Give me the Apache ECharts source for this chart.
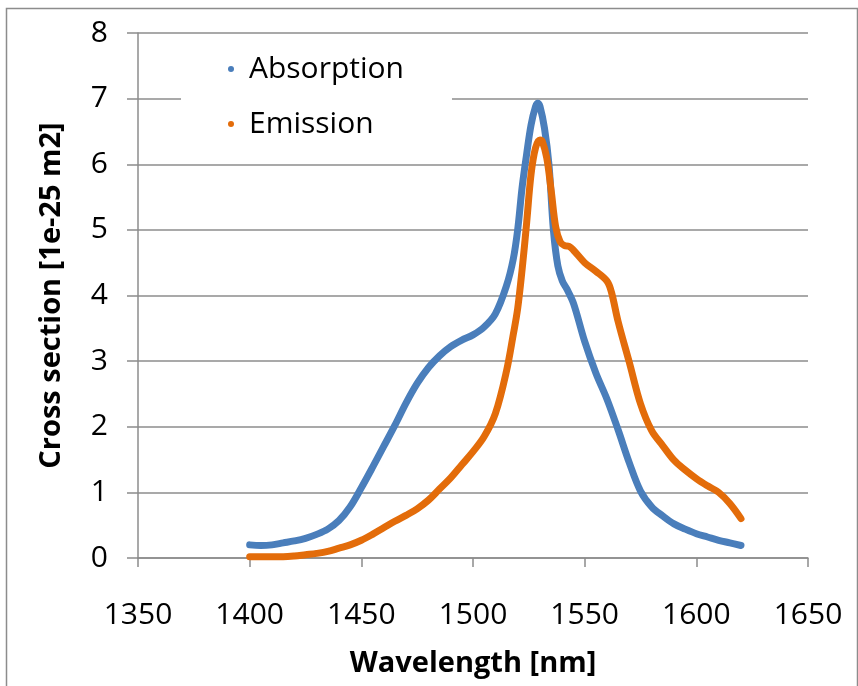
<!DOCTYPE html>
<html>
<head>
  <meta charset="utf-8">
  <title>Cross section</title>
  <script src="https://cdn.jsdelivr.net/npm/echarts@6/dist/echarts.min.js"></script>
</head>
<body style="margin:0;background:#fff">
  <div id="main" style="width: 858px;height:686px;"></div>
  <script type="text/javascript">
    // wavelength (nm) / cross section (1e-25 m2)
    var absWl = [1400, 1405, 1410, 1415, 1420, 1425, 1430, 1435, 1440, 1445, 1450, 1455, 1460, 1465, 1470, 1475, 1480, 1485, 1490, 1495, 1500, 1505, 1510, 1515, 1518, 1520, 1522, 1524, 1526, 1528, 1529, 1530, 1532, 1534, 1536, 1538, 1540, 1542, 1545, 1550, 1555, 1560, 1565, 1570, 1575, 1580, 1585, 1590, 1595, 1600, 1605, 1610, 1615, 1620];
    var absVal = [0.20, 0.19, 0.20, 0.23, 0.26, 0.30, 0.36, 0.44, 0.57, 0.78, 1.07, 1.38, 1.70, 2.02, 2.36, 2.66, 2.90, 3.08, 3.22, 3.32, 3.40, 3.52, 3.72, 4.15, 4.55, 5.00, 5.65, 6.15, 6.60, 6.88, 6.93, 6.88, 6.55, 6.00, 5.00, 4.45, 4.22, 4.10, 3.88, 3.30, 2.82, 2.42, 1.95, 1.45, 1.02, 0.78, 0.64, 0.52, 0.44, 0.37, 0.32, 0.27, 0.23, 0.19];

    var emWl = [1400, 1405, 1410, 1415, 1420, 1425, 1430, 1435, 1440, 1445, 1450, 1455, 1460, 1465, 1470, 1475, 1480, 1485, 1490, 1495, 1500, 1505, 1510, 1515, 1518, 1520, 1522, 1524, 1526, 1528, 1530, 1531, 1533, 1535, 1537, 1539, 1541, 1543, 1545, 1550, 1555, 1560, 1562, 1565, 1570, 1575, 1580, 1585, 1590, 1595, 1600, 1605, 1610, 1615, 1620];
    var emVal = [0.02, 0.02, 0.02, 0.02, 0.03, 0.05, 0.07, 0.10, 0.15, 0.20, 0.27, 0.36, 0.46, 0.56, 0.65, 0.75, 0.88, 1.05, 1.22, 1.42, 1.62, 1.85, 2.20, 2.85, 3.40, 3.80, 4.40, 5.10, 5.85, 6.25, 6.37, 6.35, 6.10, 5.60, 5.05, 4.82, 4.76, 4.75, 4.69, 4.50, 4.37, 4.22, 4.05, 3.60, 2.98, 2.35, 1.94, 1.71, 1.49, 1.34, 1.21, 1.10, 1.00, 0.83, 0.60];

    var seriesNames = ['Absorption', 'Emission'];
    var colors = ['#4a7ebb', '#e36c0a'];

    function pairs(xs, ys) {
      var out = [];
      for (var i = 0; i < xs.length; i++) {
        out.push([xs[i], ys[i]]);
      }
      return out;
    }

    var myChart = echarts.init(document.getElementById('main'));
    var font = '"Open Sans", sans-serif';
    var gridColor = '#8c8c8c';

    var option = {
      animation: false,
      color: colors,
      textStyle: { fontFamily: font },
      grid: { left: 138, top: 33, right: 50, bottom: 128, containLabel: false },
      graphic: [{
        type: 'rect',
        left: 4, top: 6,
        shape: { width: 851, height: 690 },
        style: { fill: 'none', stroke: '#8c8c8c', lineWidth: 1.5 },
        silent: true
      }],
      legend: {
        orient: 'vertical',
        left: 181, top: 40,
        backgroundColor: '#fff',
        padding: [12, 48, 14, 47],
        itemGap: 21,
        icon: 'circle',
        itemWidth: 6, itemHeight: 6,
        itemStyle: { borderWidth: 0 },
        textStyle: { fontSize: 30, color: '#000', fontFamily: font, lineHeight: 34, padding: [0, 0, 0, 10] },
        data: seriesNames
      },
      xAxis: {
        type: 'value',
        min: 1350, max: 1650, interval: 50,
        name: 'Wavelength [nm]',
        nameLocation: 'middle',
        nameGap: 91,
        nameTextStyle: { fontSize: 29, fontWeight: 'bold', color: '#000', fontFamily: font },
        axisLine: { show: true, lineStyle: { color: gridColor, width: 1.5 } },
        axisTick: { show: true, length: 9, lineStyle: { color: gridColor, width: 1.5 } },
        axisLabel: { fontSize: 30, color: '#000', margin: 42, fontFamily: font, formatter: function (v) { return String(v); } },
        splitLine: { show: false }
      },
      yAxis: {
        type: 'value',
        min: 0, max: 8, interval: 1,
        name: 'Cross section [1e-25 m2]',
        nameLocation: 'middle',
        nameGap: 72,
        nameTextStyle: { fontSize: 29, fontWeight: 'bold', color: '#000', fontFamily: font },
        axisLine: { show: true, lineStyle: { color: gridColor, width: 1.5 } },
        axisTick: { show: true, length: 11, lineStyle: { color: gridColor, width: 1.5 } },
        axisLabel: { fontSize: 30, color: '#000', margin: 30, fontFamily: font },
        splitLine: { show: true, lineStyle: { color: gridColor, width: 1.5 } }
      },
      series: [{
        name: seriesNames[0],
        type: 'line',
        data: pairs(absWl, absVal),
        smooth: 0.35,
        showSymbol: false,
        lineStyle: { width: 7, cap: 'round', join: 'round' }
      }, {
        name: seriesNames[1],
        type: 'line',
        data: pairs(emWl, emVal),
        smooth: 0.35,
        showSymbol: false,
        lineStyle: { width: 7, cap: 'round', join: 'round' }
      }]
    };

    myChart.setOption(option);
  </script>
</body>
</html>
